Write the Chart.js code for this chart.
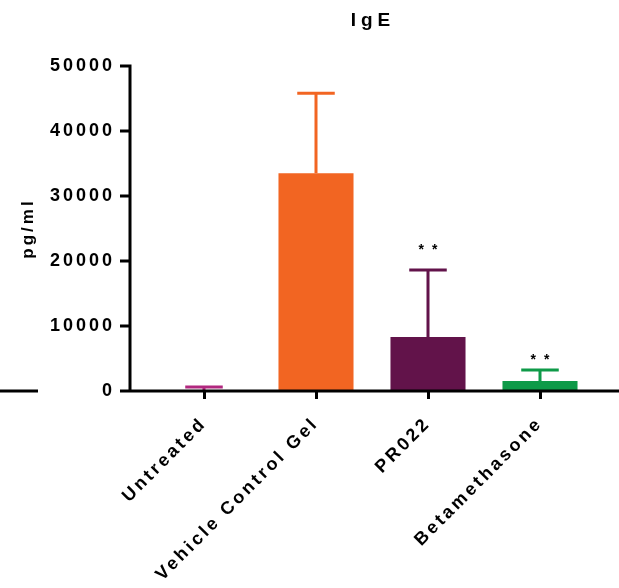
<!DOCTYPE html>
<html>
<head>
<meta charset="utf-8">
<title>IgE</title>
<script src="https://cdn.jsdelivr.net/npm/chart.js@4.4.1/dist/chart.umd.min.js"></script>
<style>
    html, body { margin: 0; padding: 0; background: #fff; }
    #igeChart { display: block; }
</style>
</head>
<body>
<canvas id="igeChart" width="619" height="588"></canvas>
<script>
// Chart data
const categories = ['Untreated', 'Vehicle Control Gel', 'PR022', 'Betamethasone'];
const meanValues = [100, 33500, 8300, 1550];
const errorValues = [500, 12300, 10300, 1700];   // upper error (SD)
const starLabels = ['', '', '* *', '* *'];
const starValues = [null, null, 21600, 4750];
const yTicks = [0, 10000, 20000, 30000, 40000, 50000];
const barColors = ['#B1287F', '#F26522', '#62134A', '#0E9A48'];

const plotFont = "'Liberation Sans', Arial, Helvetica, sans-serif";
const tickSpacing = '3px';

/**
 * Prism-like decorations: wide letter spacing, error bars, stars, axes
 */
const prismPlugin = {
    id: 'prism',
    beforeDraw(chart) {
        chart.ctx.letterSpacing = tickSpacing;
    },
    afterDatasetsDraw(chart) {
        const ctx = chart.ctx;
        const meta = chart.getDatasetMeta(0);
        const yScale = chart.scales.y;
        const area = chart.chartArea;

        ctx.save();
        ctx.lineWidth = 3;
        ctx.lineCap = 'butt';

        // error bars (upper only)
        meta.data.forEach((bar, i) => {
            const base = yScale.getPixelForValue(meanValues[i]);
            const top = yScale.getPixelForValue(meanValues[i] + errorValues[i]);
            const capHalf = bar.width / 4;
            ctx.strokeStyle = barColors[i];
            ctx.beginPath();
            ctx.moveTo(bar.x, base);
            ctx.lineTo(bar.x, top);
            ctx.moveTo(bar.x - capHalf, top);
            ctx.lineTo(bar.x + capHalf, top);
            ctx.stroke();
        });

        // significance stars
        ctx.fillStyle = '#000';
        ctx.font = 'bold 14px ' + plotFont;
        ctx.letterSpacing = '2px';
        ctx.textAlign = 'center';
        ctx.textBaseline = 'middle';
        meta.data.forEach((bar, i) => {
            if (!starLabels[i]) return;
            ctx.fillText(starLabels[i], bar.x + 1, yScale.getPixelForValue(starValues[i]));
        });

        // axes
        const axisX = 130;
        const zeroY = yScale.getPixelForValue(0);
        ctx.strokeStyle = '#000';
        ctx.beginPath();
        ctx.moveTo(axisX, area.top - 1.5);
        ctx.lineTo(axisX, zeroY + 1.5);
        yTicks.forEach(v => {
            const y = yScale.getPixelForValue(v);
            ctx.moveTo(axisX - 10, y);
            ctx.lineTo(axisX, y);
        });
        ctx.moveTo(axisX - 10, zeroY);
        ctx.lineTo(chart.width, zeroY);
        // stray segment at far left
        ctx.moveTo(0, zeroY);
        ctx.lineTo(38, zeroY);
        ctx.stroke();
        ctx.restore();
    },
    afterDraw(chart) {
        const ctx = chart.ctx;
        const area = chart.chartArea;
        ctx.save();
        ctx.fillStyle = '#000';
        ctx.font = 'bold 19px ' + plotFont;
        ctx.letterSpacing = '5px';
        ctx.textAlign = 'center';
        ctx.textBaseline = 'alphabetic';
        ctx.fillText('IgE', (area.left + area.right) / 2 + 1, 26);
        ctx.restore();
    }
};

const ctx = document.getElementById('igeChart').getContext('2d');
const igeChart = new Chart(ctx, {
    type: 'bar',
    data: {
        labels: categories,
        datasets: [{
            data: meanValues,
            backgroundColor: barColors,
            borderWidth: 0,
            barPercentage: 0.67,
            categoryPercentage: 1
        }]
    },
    options: {
        responsive: false,
        animation: false,
        layout: { padding: { left: 0, right: 23, top: 66, bottom: 0 } },
        plugins: {
            legend: { display: false },
            tooltip: { enabled: false },
            title: { display: false }
        },
        scales: {
            x: {
                offset: true,
                border: { display: false },
                grid: {
                    display: true,
                    drawOnChartArea: false,
                    drawTicks: true,
                    tickLength: 8,
                    offset: false,
                    color: '#000',
                    lineWidth: 3
                },
                ticks: {
                    autoSkip: false,
                    maxRotation: 45,
                    minRotation: 45,
                    padding: 14,
                    color: '#000',
                    font: { family: plotFont, size: 18, weight: 'bold' }
                },
                afterFit: (scale) => { scale.height = 197; }
            },
            y: {
                min: 0,
                max: 50000,
                border: { display: false },
                grid: { display: false, drawTicks: false },
                ticks: {
                    padding: 33,
                    color: '#000',
                    font: { family: plotFont, size: 18, weight: 'bold' },
                    callback: (value) => String(value)
                },
                afterBuildTicks: (scale) => {
                    scale.ticks = yTicks.map(v => ({ value: v }));
                },
                title: {
                    display: true,
                    text: 'pg/ml',
                    color: '#000',
                    font: { family: plotFont, size: 17, weight: 'bold' },
                    padding: { top: 18, bottom: 0 }
                },
                afterFit: (scale) => { scale.width = 148; }
            }
        }
    },
    plugins: [prismPlugin]
});
</script>
</body>
</html>
